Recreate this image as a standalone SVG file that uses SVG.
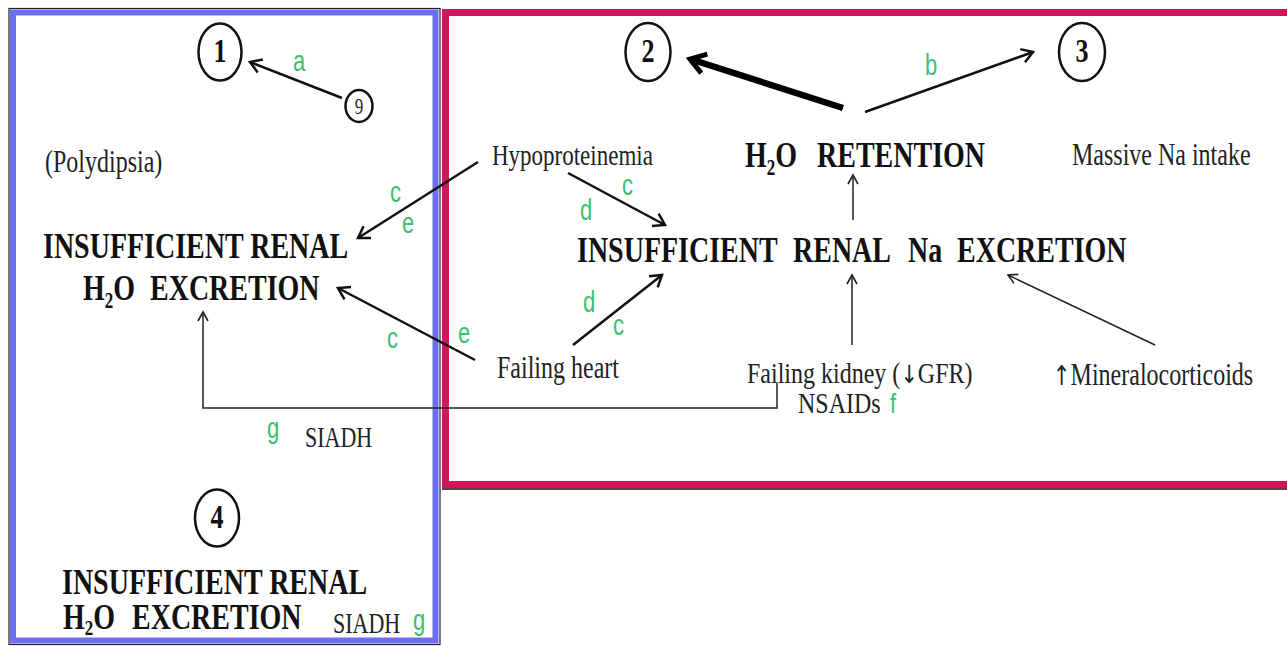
<svg xmlns="http://www.w3.org/2000/svg" width="1287" height="646" viewBox="0 0 1287 646">
<style>
.b{font-family:"Liberation Serif","Times New Roman",serif;font-weight:bold;font-size:28px;fill:#111}
.r{font-family:"Liberation Serif","Times New Roman",serif;font-size:24px;fill:#222}
.n{font-family:"Liberation Serif","Times New Roman",serif;font-weight:bold;font-size:26px;fill:#111;text-anchor:middle}
.g{font-family:"Liberation Sans",Arial,sans-serif;font-size:22px;fill:#3cc06c}
.ar{font-family:"DejaVu Sans","DejaVu Serif",sans-serif;font-weight:normal;fill:#222}
.sub{font-size:17px}
.circ{fill:none;stroke:#111;stroke-width:2.5}
.ln{fill:none;stroke:#111;stroke-width:2.5}
.thin{fill:none;stroke:#222;stroke-width:1.5}
.thick{fill:none;stroke:#000;stroke-width:6.5}
</style>
<defs>
<marker id="ah" markerUnits="userSpaceOnUse" markerWidth="20" markerHeight="20" refX="16" refY="10" orient="auto" overflow="visible"><path d="M5,3 L16,10 L5,17" fill="none" stroke="#111" stroke-width="2.5"/></marker>
<marker id="aht" markerUnits="userSpaceOnUse" markerWidth="16" markerHeight="14" refX="12" refY="7" orient="auto" overflow="visible"><path d="M3,2 L12,7 L3,12" fill="none" stroke="#222" stroke-width="1.6"/></marker>
<marker id="ahk" markerUnits="userSpaceOnUse" markerWidth="28" markerHeight="28" refX="22" refY="14" orient="auto" overflow="visible"><path d="M7,4 L22,14 L7,24" fill="none" stroke="#000" stroke-width="5"/></marker>
</defs>
<rect x="0" y="0" width="1287" height="646" fill="#fff"/>

<g id="frames">
<rect x="9" y="8.5" width="431" height="636" fill="none" stroke="#222" stroke-width="1.2"/>
<rect x="13" y="12.5" width="422.5" height="628" fill="none" stroke="#6e6ef0" stroke-width="6"/>
<rect x="445.5" y="12.5" width="900" height="472" fill="none" stroke="#d5145c" stroke-width="7"/>
<line x1="442" y1="489" x2="1287" y2="489" stroke="#300" stroke-width="1.5"/>
</g>

<g id="connectors">
<line class="ln" x1="342" y1="98" x2="250" y2="62" marker-end="url(#ah)"/>
<line class="ln" x1="478" y1="162" x2="358" y2="238" marker-end="url(#ah)"/>
<line class="ln" x1="475" y1="360" x2="338" y2="288" marker-end="url(#ah)"/>
<path class="thin" d="M777,383 V408 H203 V312" marker-end="url(#aht)"/>
<line class="thick" x1="843" y1="108" x2="690" y2="59" marker-end="url(#ahk)"/>
<line class="ln" x1="865" y1="112" x2="1033" y2="52" marker-end="url(#ah)"/>
<line class="thin" x1="853" y1="220" x2="853" y2="175" marker-end="url(#aht)"/>
<line class="ln" x1="568" y1="173" x2="665" y2="225" marker-end="url(#ah)"/>
<line class="ln" x1="573" y1="345" x2="662" y2="275" marker-end="url(#ah)"/>
<line class="thin" x1="852" y1="345" x2="852" y2="275" marker-end="url(#aht)"/>
<line class="thin" x1="1155" y1="345" x2="1008" y2="275" marker-end="url(#aht)"/>
</g>

<g id="n1"><ellipse class="circ" cx="220" cy="52" rx="21.5" ry="28.5"/><text class="n" transform="translate(220,62) scale(1,1.3)">1</text></g>
<g id="n9"><ellipse class="circ" cx="359" cy="106" rx="13.5" ry="16"/><text class="r" style="font-size:17px" text-anchor="middle" transform="translate(359,114) scale(1,1.3)">9</text></g>
<g id="n2"><ellipse class="circ" cx="648" cy="52" rx="22.5" ry="29"/><text class="n" transform="translate(648,62) scale(1,1.3)">2</text></g>
<g id="n3"><ellipse class="circ" cx="1082" cy="52" rx="23" ry="29"/><text class="n" transform="translate(1082,62) scale(1,1.3)">3</text></g>
<g id="n4"><ellipse class="circ" cx="217" cy="518" rx="22" ry="28.5"/><text class="n" transform="translate(217,528) scale(1,1.3)">4</text></g>

<g id="polydipsia"><text class="r" transform="translate(45,172) scale(1,1.3)">(Polydipsia)</text></g>

<g id="left-h2o">
<text class="b" transform="translate(43,258) scale(1,1.3)">INSUFFICIENT RENAL</text>
<text class="b" transform="translate(83,300) scale(1,1.3)">H<tspan class="sub" dy="6">2</tspan><tspan dy="-6">O</tspan><tspan x="67">EXCRETION</tspan></text>
</g>

<g id="bottom-h2o">
<text class="b" transform="translate(62,594) scale(1,1.25)">INSUFFICIENT RENAL</text>
<text class="b" transform="translate(63,629) scale(1,1.25)">H<tspan class="sub" dy="5">2</tspan><tspan dy="-5">O</tspan><tspan x="69">EXCRETION</tspan></text>
<text class="r" style="font-size:22px" transform="translate(333,633) scale(1,1.3)">SIADH</text>
<text class="g" transform="translate(413,630) scale(1,1.3)">g</text>
</g>

<g id="siadh">
<text class="g" transform="translate(267,438) scale(1,1.3)">g</text>
<text class="r" style="font-size:22px" transform="translate(305,447) scale(1,1.3)">SIADH</text>
</g>

<g id="h2o-retention"><text class="b" transform="translate(745,167) scale(1,1.3)">H<tspan class="sub" dy="6">2</tspan><tspan dy="-6">O</tspan><tspan x="72">RETENTION</tspan></text></g>

<g id="na-excretion"><text class="b" transform="translate(577,262) scale(1,1.3)">INSUFFICIENT<tspan x="216">RENAL</tspan><tspan x="331">Na</tspan><tspan x="380">EXCRETION</tspan></text></g>

<g id="hypoproteinemia"><text class="r" style="font-size:23px" transform="translate(492,165) scale(1,1.3)">Hypoproteinemia</text></g>
<g id="massive"><text class="r" transform="translate(1072,165) scale(1,1.3)">Massive  Na intake</text></g>
<g id="failing-heart"><text class="r" transform="translate(497,378) scale(1,1.3)">Failing heart</text></g>
<g id="failing-kidney">
<text class="r" transform="translate(747,383) scale(1,1.2)">Failing kidney (<tspan class="ar" style="font-size:21px">↓</tspan>GFR)</text>
<text class="r" transform="translate(798,413) scale(1,1.2)">NSAIDs</text>
<text class="g" transform="translate(890,413) scale(1,1.25)">f</text>
</g>
<g id="mineralo"><text class="r" transform="translate(1053,385) scale(1,1.3)"><tspan class="ar" style="font-size:21px">↑</tspan>Mineralocorticoids</text></g>

<g id="labels">
<text class="g" transform="translate(293,71) scale(1,1.3)">a</text>
<text class="g" transform="translate(390,202) scale(1,1.3)">c</text>
<text class="g" transform="translate(402,233) scale(1,1.3)">e</text>
<text class="g" transform="translate(387,348) scale(1,1.3)">c</text>
<text class="g" transform="translate(458,343) scale(1,1.3)">e</text>
<text class="g" transform="translate(925,75) scale(1,1.3)">b</text>
<text class="g" transform="translate(622,195) scale(1,1.3)">c</text>
<text class="g" transform="translate(580,220) scale(1,1.3)">d</text>
<text class="g" transform="translate(583,312) scale(1,1.3)">d</text>
<text class="g" transform="translate(613,335) scale(1,1.3)">c</text>
</g>
</svg>
